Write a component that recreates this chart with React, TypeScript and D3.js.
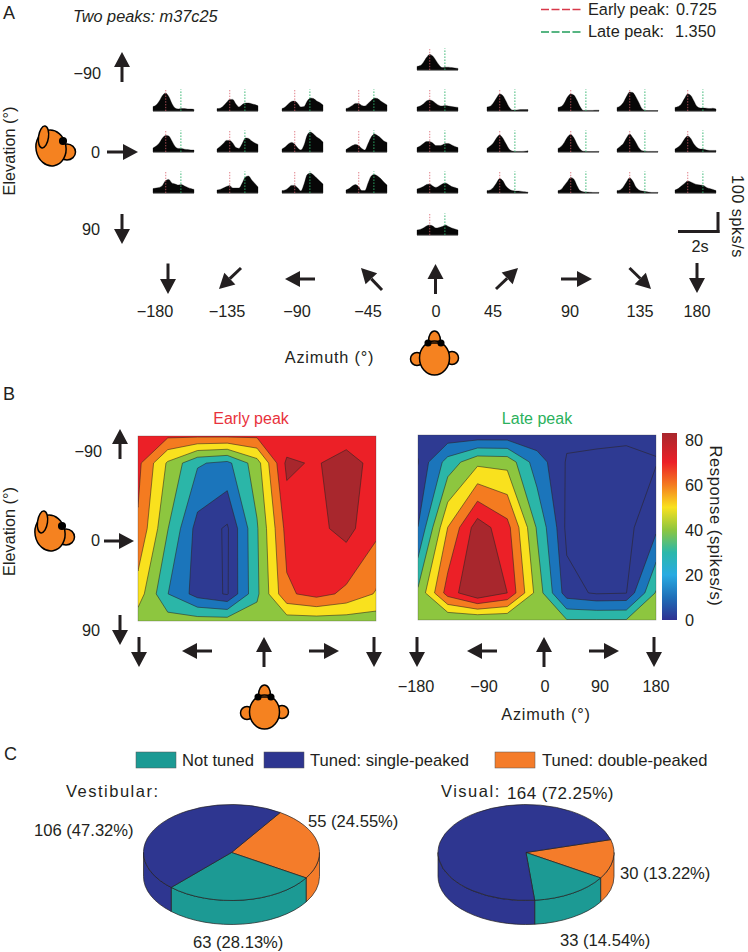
import React from "react";
import * as d3 from "d3";

// ---------- Panel A data (spikes/s at each time sample) ----------
const azimuths = [-180, -135, -90, -45, 0, 45, 90, 135, 180];
const elevations = [-90, -45, 0, 45, 90];
const timeSamples = [0.2, 0.33, 0.46, 0.59, 0.72, 0.85, 0.98, 1.11, 1.24, 1.37, 1.5, 1.63, 1.76, 1.89];
const earlyPeak = 0.725;
const latePeak = 1.35;

const psthUp90 = [18, 22, 38, 62, 78, 70, 48, 25, 12, 14, 14, 12, 10, 8];
const psthDown90 = [25, 28, 35, 45, 50, 45, 35, 38, 42, 50, 42, 35, 30, 25];
const psthUp45 = [
  [22, 30, 50, 78, 90, 72, 38, 15, 10, 12, 12, 10, 10, 8],
  [12, 14, 25, 42, 58, 58, 35, 20, 32, 40, 40, 36, 32, 26],
  [12, 20, 35, 48, 50, 38, 20, 22, 50, 65, 62, 50, 42, 30],
  [12, 18, 28, 38, 38, 28, 25, 38, 52, 65, 62, 50, 40, 30],
  [20, 25, 35, 50, 55, 50, 38, 28, 25, 28, 25, 22, 20, 18],
  [20, 24, 40, 65, 85, 78, 50, 20, 5, 5, 6, 7, 7, 7],
  [18, 22, 40, 70, 85, 80, 55, 22, 3, 3, 3, 3, 4, 4],
  [18, 25, 42, 72, 95, 92, 70, 40, 10, 3, 2, 2, 2, 2],
  [18, 22, 35, 62, 85, 78, 50, 22, 15, 15, 14, 12, 14, 10],
];
const psthLevel = [
  [20, 30, 45, 70, 82, 80, 55, 28, 18, 18, 14, 12, 10, 10],
  [15, 28, 42, 58, 58, 45, 22, 18, 42, 70, 68, 55, 45, 38],
  [15, 25, 40, 48, 40, 20, 10, 35, 85, 100, 90, 75, 65, 50],
  [12, 22, 32, 38, 32, 18, 10, 42, 75, 90, 82, 70, 55, 48],
  [22, 30, 42, 52, 52, 45, 32, 32, 35, 42, 42, 35, 28, 22],
  [18, 30, 45, 70, 85, 70, 42, 15, 5, 3, 3, 3, 4, 6],
  [18, 28, 48, 75, 88, 72, 40, 15, 4, 3, 2, 2, 3, 3],
  [15, 28, 42, 70, 90, 72, 48, 20, 6, 4, 3, 3, 3, 3],
  [15, 25, 40, 65, 80, 68, 40, 22, 15, 14, 10, 8, 8, 8],
];
const psthDown45 = [
  [22, 25, 28, 38, 62, 68, 50, 45, 40, 42, 35, 28, 22, 18],
  [15, 18, 25, 32, 38, 25, 25, 25, 50, 80, 85, 65, 48, 30],
  [12, 15, 25, 38, 38, 25, 10, 45, 92, 100, 90, 75, 60, 45],
  [15, 22, 35, 42, 32, 12, 12, 50, 85, 92, 85, 72, 55, 40],
  [20, 25, 32, 42, 45, 35, 28, 35, 45, 50, 42, 32, 28, 22],
  [12, 15, 28, 50, 72, 62, 35, 20, 12, 10, 10, 8, 6, 4],
  [12, 18, 38, 58, 78, 70, 38, 12, 6, 5, 4, 3, 3, 3],
  [12, 15, 30, 55, 76, 60, 30, 15, 10, 8, 5, 3, 3, 3],
  [15, 22, 35, 48, 60, 55, 48, 42, 40, 38, 28, 22, 18, 12],
];

// ---------- Panel B data (spikes/s, rows = elevation, columns = azimuth) ----------
const earlyUp90 = [64, 64, 64, 64, 64, 64, 64, 64, 64];
const earlyUp45 = [65, 40, 22, 18, 37, 75, 71, 81, 66];
const earlyLevel = [61, 31.5, 6.5, 0, 30, 66, 70, 76, 65];
const earlyDown45 = [47, 21, 6.2, 0.3, 29, 60.5, 66, 60, 51];
const earlyDown90 = [36, 36, 36, 36, 36, 36, 36, 36, 36];
const lateUp90 = [4, 4, 4, 4, 4, 4, 4, 4, 4];
const lateUp45 = [2.3, 25, 39, 38, 15, 1.8, 1.1, 0.2, 2.1];
const lateLevel = [10.5, 52, 78, 66, 30, 0.5, 0.3, 0.5, 8];
const lateDown45 = [33, 67, 82.5, 72.6, 37.5, 5.2, 1.5, 2.2, 32];
const lateDown90 = [31.5, 31.5, 31.5, 31.5, 31.5, 31.5, 31.5, 31.5, 31.5];

const bandLevels = [10.4, 20.8, 31.1, 41.5, 51.9, 62.3, 72.6];
const bandColors = ["#1b75bb", "#2bb6a8", "#8dc63f", "#f9e11e", "#f47b20", "#ec2027", "#a8272d"];
const lowestBand = "#2e3a92";
const colorbarStops = [
  [0, "#2e3192"], [10, "#1f6fb8"], [20, "#29abe2"], [30, "#2bb8aa"], [40, "#8dc63f"],
  [50, "#f9e11e"], [60, "#f47b20"], [70, "#ec2027"], [83, "#a8272d"],
] as const;
const colorbarTicks = [0, 20, 40, 60, 80];

// ---------- Panel C data ----------
const pieClasses = ["Tuned: double-peaked", "Not tuned", "Tuned: single-peaked"];
const pieColors = ["#f47c2a", "#1c9a94", "#2e3690"];
const vestibularCounts = [55, 63, 106];
const visualCounts = [30, 33, 164];

// ---------- Layout ----------
const FONT = "'Liberation Sans', Arial, sans-serif";
const INK = "#231f20";

const psthLeft = d3.scaleOrdinal<number, number>(azimuths, [153, 217, 282, 346, 417, 487, 558, 617, 675]);
const psthBase = d3.scaleOrdinal<number, number>(elevations, [70, 111, 152, 193, 235]);
const psthT = d3.scaleLinear().domain([0.2, 1.89]).range([0, 41]);
const psthY = d3.scaleLinear().domain([0, 100]).range([0, -20]);

type P = [number, number];

function Arrow({ from, to }: { from: P; to: P }) {
  const a = Math.atan2(to[1] - from[1], to[0] - from[0]);
  const hl = 15, hw = 8;
  const bx = to[0] - hl * Math.cos(a), by = to[1] - hl * Math.sin(a);
  const nx = -Math.sin(a), ny = Math.cos(a);
  return (
    <g>
      <line x1={from[0]} y1={from[1]} x2={bx} y2={by} stroke={INK} strokeWidth={3} />
      <polygon points={`${to[0]},${to[1]} ${bx + nx * hw},${by + ny * hw} ${bx - nx * hw},${by - ny * hw}`} fill={INK} />
    </g>
  );
}

const ORANGE = "#f58220";
function SideHead({ dx, dy }: { dx: number; dy: number }) {
  return (
    <g transform={`translate(${dx},${dy})`} fill={ORANGE} stroke="#000" strokeWidth={1.5}>
      <ellipse cx={67} cy={152} rx={8.5} ry={8} />
      <ellipse cx={51} cy={148} rx={15} ry={18} transform="rotate(-10 51 148)" />
      <ellipse cx={43.5} cy={137} rx={5} ry={11} transform="rotate(8 43.5 137)" />
      <circle cx={63} cy={141} r={3.3} fill="#000" />
    </g>
  );
}
function TopHead({ dx, dy }: { dx: number; dy: number }) {
  return (
    <g transform={`translate(${dx},${dy})`} fill={ORANGE} stroke="#000" strokeWidth={1.5}>
      <circle cx={417} cy={359} r={6.5} />
      <circle cx={452} cy={358} r={6.5} />
      <ellipse cx={434.5} cy={341} rx={6} ry={10} />
      <ellipse cx={434.5} cy={358} rx={15} ry={17} />
      <line x1={428} y1={343} x2={441} y2={343} />
      <circle cx={428} cy={343} r={2.8} fill="#000" />
      <circle cx={441} cy={343} r={2.8} fill="#000" />
    </g>
  );
}

function Psth({ az, el, values }: { az: number; el: number; values: number[] }) {
  const x0 = psthLeft(az), base = psthBase(el);
  const area = d3.area<number>()
    .x((_, i) => psthT(timeSamples[i]))
    .y0(0)
    .y1((v) => psthY(v))
    .curve(d3.curveMonotoneX);
  return (
    <g transform={`translate(${x0},${base})`}>
      <path d={area(values) || ""} fill="#070707" stroke="#070707" strokeWidth={0.3} />
      <line x1={0} x2={41} y1={0.3} y2={0.3} stroke="#777" strokeWidth={1} />
      <line x1={psthT(earlyPeak)} x2={psthT(earlyPeak)} y1={0} y2={psthY(108)} stroke="#d9606c" strokeWidth={0.8} strokeDasharray="1.4 1.4" />
      <line x1={psthT(latePeak)} x2={psthT(latePeak)} y1={0} y2={psthY(108)} stroke="#2fb36c" strokeWidth={0.9} strokeDasharray="1.6 1.4" />
    </g>
  );
}

const geoFor = (xr: [number, number], yr: [number, number]) => {
  const sx = d3.scaleLinear().domain([0.5, 8.5]).range(xr);
  // the elevation axis is sine-spaced in the original figure
  const sy = d3.scaleLinear()
    .domain([0.5, 1.5, 2.5, 3.5, 4.5])
    .range(elevations.map((e) => yr[0] + ((Math.sin((e * Math.PI) / 180) + 1) / 2) * (yr[1] - yr[0])));
  return d3.geoPath(d3.geoTransform({
    point(x: number, y: number) { (this as any).stream.point(sx(x), sy(y)); },
  }));
};

function ContourPanel({ id, rows, low, xr, yr }: { id: string; rows: number[][]; low: number; xr: [number, number]; yr: [number, number] }) {
  const flat = rows.flat();
  const levels = [low, ...bandLevels];
  const colors = [lowestBand, ...bandColors];
  const cs = d3.contours().size([9, 5]).smooth(true).thresholds(levels)(flat);
  const path = geoFor(xr, yr);
  return (
    <g>
      <clipPath id={id}><rect x={xr[0]} y={yr[0]} width={xr[1] - xr[0]} height={yr[1] - yr[0]} /></clipPath>
      <rect x={xr[0]} y={yr[0]} width={xr[1] - xr[0]} height={yr[1] - yr[0]} fill={lowestBand} />
      <g clipPath={`url(#${id})`}>
        {cs.map((c, i) => (
          <path key={i} d={path(c as any) || ""} fill={colors[i]} stroke="#2a2320" strokeWidth={0.55} />
        ))}
      </g>
      <rect x={xr[0]} y={yr[0]} width={xr[1] - xr[0]} height={yr[1] - yr[0]} fill="none" stroke="#3a3a3a" strokeOpacity={0.45} strokeWidth={0.6} />
    </g>
  );
}

function Pie3D({ counts, cx, cy, rx, ry, depth }: { counts: number[]; cx: number; cy: number; rx: number; ry: number; depth: number }) {
  const total = d3.sum(counts);
  // the boundary between the first two classes sits at the same place in both pies
  const anchor = (122 * Math.PI) / 180;
  const start = anchor - (counts[0] / total) * 2 * Math.PI;
  const arcs = d3.pie<number>().sort(null).startAngle(start).endAngle(start + 2 * Math.PI)(counts);
  const px = (a: number) => cx + rx * Math.sin(a);
  const py = (a: number) => cy - ry * Math.cos(a);
  const sweep = (a0: number, a1: number) => {
    const large = a1 - a0 > Math.PI ? 1 : 0;
    return `A${rx},${ry} 0 ${large} 1 ${px(a1)},${py(a1)}`;
  };
  const walls: React.ReactNode[] = [];
  const tops: React.ReactNode[] = [];
  arcs.forEach((d, i) => {
    const s = [d.startAngle, d.endAngle];
    // visible wall: part of the sector between 90° and 270° (clock angle), modulo a full turn
    for (const k of [0, 1, -1]) {
      const lo = Math.PI / 2 + k * 2 * Math.PI, hi = (3 * Math.PI) / 2 + k * 2 * Math.PI;
      const a0 = Math.max(s[0], lo), a1 = Math.min(s[1], hi);
      if (a1 > a0) {
        walls.push(
          <path key={`w${i}${k}`} fill={pieColors[i]} stroke={INK} strokeWidth={0.7}
            d={`M${px(a0)},${py(a0)} ${sweep(a0, a1)} L${px(a1)},${py(a1) + depth} A${rx},${ry} 0 0 0 ${px(a0)},${py(a0) + depth} Z`} />
        );
      }
    }
    tops.push(
      <path key={`t${i}`} fill={pieColors[i]} stroke={INK} strokeWidth={0.7}
        d={`M${cx},${cy} L${px(s[0])},${py(s[0])} ${sweep(s[0], s[1])} Z`} />
    );
  });
  return <g>{walls}{tops}</g>;
}

const T = (p: React.SVGProps<SVGTextElement>) => <text fontFamily={FONT} fill={INK} fontSize={16.3} {...p} />;

export default function App() {
  const cbY = d3.scaleLinear().domain([0, 83]).range([620, 433]);
  return (
    <svg width={748} height={952} viewBox="0 0 748 952" style={{ position: "absolute", left: 0, top: 0, background: "#fff" }}>
      <defs>
        <linearGradient id="cb" x1="0" y1="1" x2="0" y2="0">
          {colorbarStops.map(([v, c]) => <stop key={v} offset={v / 83} stopColor={c} />)}
        </linearGradient>
      </defs>

      {/* Panel A */}
      <T x={3} y={19} fontSize={18}>A</T>
      <T x={73} y={22} fontStyle="italic">Two peaks: m37c25</T>
      <line x1={541} x2={582} y1={9.5} y2={9.5} stroke="#d8384a" strokeWidth={1.4} strokeDasharray="8 2.5" />
      <line x1={541} x2={582} y1={32} y2={32} stroke="#1f9d5a" strokeWidth={1.4} strokeDasharray="8 2.5" />
      <T x={588} y={14.5}>Early peak:</T>
      <T x={676} y={14.5}>{earlyPeak.toFixed(3)}</T>
      <T x={588} y={37}>Late peak:</T>
      <T x={675} y={37}>{latePeak.toFixed(3)}</T>

      <Psth az={0} el={-90} values={psthUp90} />
      <Psth az={0} el={90} values={psthDown90} />
      {azimuths.map((az, i) => <Psth key={`u${az}`} az={az} el={-45} values={psthUp45[i]} />)}
      {azimuths.map((az, i) => <Psth key={`m${az}`} az={az} el={0} values={psthLevel[i]} />)}
      {azimuths.map((az, i) => <Psth key={`d${az}`} az={az} el={45} values={psthDown45[i]} />)}

      <T transform="translate(15,151) rotate(-90)" textAnchor="middle">Elevation (°)</T>
      <SideHead dx={0} dy={0} />
      <T x={101} y={79} textAnchor="end">−90</T>
      <T x={100} y={158} textAnchor="end">0</T>
      <T x={100} y={235} textAnchor="end">90</T>
      <Arrow from={[122, 82]} to={[122, 52]} />
      <Arrow from={[107, 152]} to={[138, 152]} />
      <Arrow from={[122, 214]} to={[122, 244]} />

      <line x1={718} x2={718} y1={212} y2={233} stroke={INK} strokeWidth={3} />
      <line x1={678} x2={719.5} y1={231.5} y2={231.5} stroke={INK} strokeWidth={3} />
      <T x={700} y={252} textAnchor="middle">2s</T>
      <T transform="translate(732,216.5) rotate(90)" textAnchor="middle" letterSpacing={0.5}>100 spks/s</T>

      <Arrow from={[168, 263.5]} to={[168, 294]} />
      <Arrow from={[241, 268]} to={[219, 289]} />
      <Arrow from={[315, 279]} to={[285, 279]} />
      <Arrow from={[382, 290]} to={[361, 268]} />
      <Arrow from={[435.5, 294]} to={[435.5, 264]} />
      <Arrow from={[496, 289]} to={[518, 268]} />
      <Arrow from={[561, 279]} to={[592, 279]} />
      <Arrow from={[629.5, 268]} to={[651, 289]} />
      <Arrow from={[697, 263]} to={[697, 293]} />
      {azimuths.map((a, i) => (
        <T key={a} x={[155, 227, 297, 368, 436, 493, 570, 640, 697][i]} y={317} textAnchor="middle">
          {a < 0 ? `−${-a}` : a}
        </T>
      ))}
      <T x={329.5} y={363} textAnchor="middle" letterSpacing={0.8}>Azimuth (°)</T>
      <TopHead dx={0} dy={0} />

      {/* Panel B */}
      <T x={3} y={400} fontSize={18}>B</T>
      <T x={251} y={423.5} textAnchor="middle" fill="#e8323c" fontSize={16}>Early peak</T>
      <T x={537} y={423.5} textAnchor="middle" fill="#2bb15c" fontSize={16}>Late peak</T>
      <ContourPanel id="early" low={1.2}
        rows={[earlyUp90, earlyUp45, earlyLevel, earlyDown45, earlyDown90]} xr={[138, 376]} yr={[436, 621]} />
      <ContourPanel id="late" low={2.5}
        rows={[lateUp90, lateUp45, lateLevel, lateDown45, lateDown90]} xr={[418, 656]} yr={[435, 620]} />
      <rect x={662} y={433} width={15} height={187} fill="url(#cb)" />
      {colorbarTicks.map((t) => (
        <T key={t} x={685} y={cbY(t) + 6}>{t}</T>
      ))}
      <T transform="translate(710,526) rotate(90)" textAnchor="middle" letterSpacing={0.6} fontSize={16.5}>Response (spikes/s)</T>

      <T transform="translate(15,531.5) rotate(-90)" textAnchor="middle">Elevation (°)</T>
      <SideHead dx={-1} dy={385} />
      <T x={102} y={457} textAnchor="end">−90</T>
      <T x={100} y={546} textAnchor="end">0</T>
      <T x={100} y={636} textAnchor="end">90</T>
      <Arrow from={[120, 459]} to={[120, 429]} />
      <Arrow from={[104, 541]} to={[134, 541]} />
      <Arrow from={[120, 615]} to={[120, 645]} />

      <Arrow from={[139, 637]} to={[139, 667]} />
      <Arrow from={[212, 651]} to={[182, 651]} />
      <Arrow from={[264, 667]} to={[264, 637]} />
      <Arrow from={[309, 651]} to={[339, 651]} />
      <Arrow from={[374, 637]} to={[374, 667]} />
      <Arrow from={[417, 637]} to={[417, 667]} />
      <Arrow from={[497, 651]} to={[467, 651]} />
      <Arrow from={[544, 667]} to={[544, 637]} />
      <Arrow from={[589, 651]} to={[619, 651]} />
      <Arrow from={[654, 637]} to={[654, 667]} />
      {[-180, -90, 0, 90, 180].map((a, i) => (
        <T key={a} x={[416, 484, 545, 600, 656][i]} y={692} textAnchor="middle">{a < 0 ? `−${-a}` : a}</T>
      ))}
      <T x={546} y={720} textAnchor="middle" letterSpacing={0.8}>Azimuth (°)</T>
      <TopHead dx={-170} dy={354} />

      {/* Panel C */}
      <T x={4} y={760} fontSize={18}>C</T>
      <rect x={136} y={752} width={40} height={16} fill={pieColors[1]} stroke="#555" strokeWidth={0.5} />
      <T x={182} y={766} fontSize={16.6}>{pieClasses[1]}</T>
      <rect x={264} y={752} width={40} height={16} fill={pieColors[2]} stroke="#555" strokeWidth={0.5} />
      <T x={310} y={766} fontSize={16.6}>{pieClasses[2]}</T>
      <rect x={495} y={752} width={40} height={16} fill={pieColors[0]} stroke="#555" strokeWidth={0.5} />
      <T x={542} y={766} fontSize={16.6}>{pieClasses[0]}</T>

      <T x={66} y={796.5} fontSize={16.5} letterSpacing={1.5}>Vestibular:</T>
      <T x={441} y={796.5} fontSize={16.5} letterSpacing={1.5}>Visual:</T>
      <T x={507} y={799} fontSize={17} letterSpacing={0.4}>164 (72.25%)</T>

      <Pie3D counts={vestibularCounts} cx={231.5} cy={852.5} rx={88} ry={48} depth={24} />
      <Pie3D counts={visualCounts} cx={526} cy={852.5} rx={88} ry={48} depth={24} />

      <T x={308} y={827} fontSize={16.6}>55 (24.55%)</T>
      <T x={34} y={835.5} fontSize={16.6}>106 (47.32%)</T>
      <T x={193} y={948} fontSize={16.6}>63 (28.13%)</T>
      <T x={620} y={879} fontSize={16.6}>30 (13.22%)</T>
      <T x={560} y={946} fontSize={16.6}>33 (14.54%)</T>
    </svg>
  );
}
